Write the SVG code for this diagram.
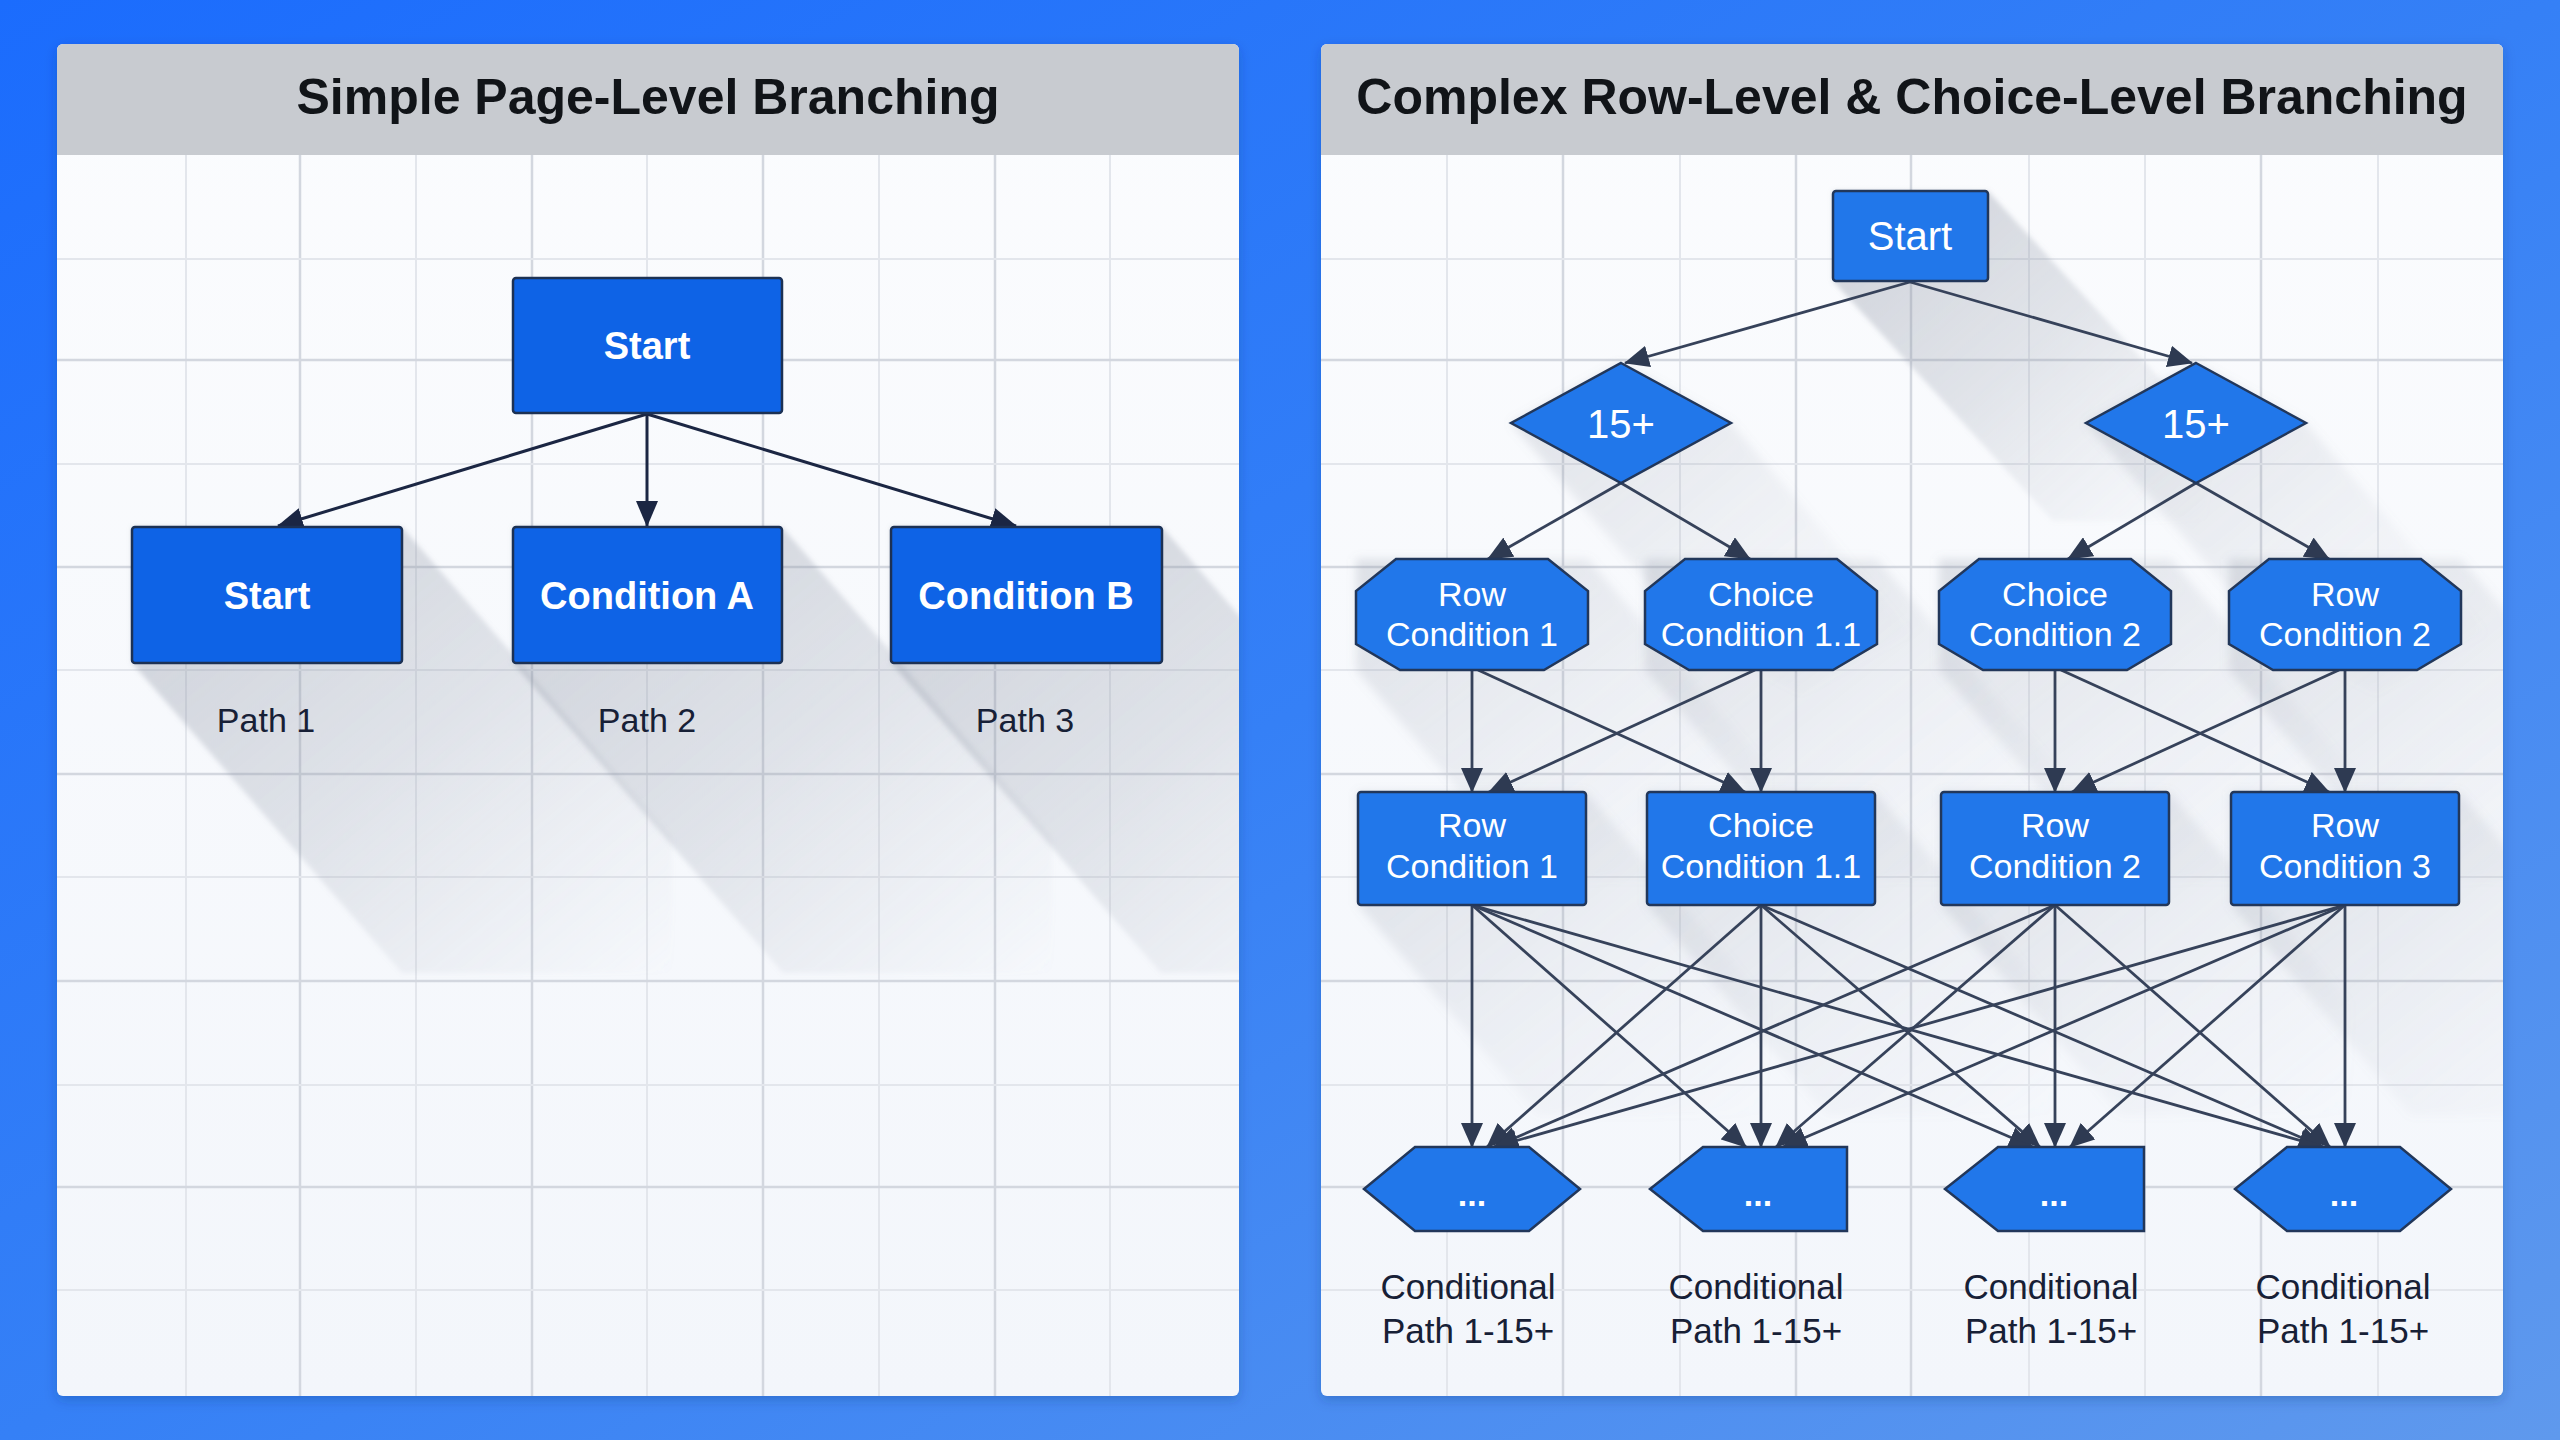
<svg xmlns="http://www.w3.org/2000/svg" width="2560" height="1440" viewBox="0 0 2560 1440">
  <defs>
    <linearGradient id="bg" x1="0" y1="0" x2="1" y2="1">
      <stop offset="0" stop-color="#1b6cfd"/>
      <stop offset="0.5" stop-color="#3580f6"/>
      <stop offset="1" stop-color="#5f99ed"/>
    </linearGradient>
    <linearGradient id="body" x1="0" y1="0" x2="0" y2="1">
      <stop offset="0" stop-color="#fbfcfe"/>
      <stop offset="1" stop-color="#f3f6fb"/>
    </linearGradient>
    <linearGradient id="shg" x1="0" y1="0" x2="1" y2="1">
      <stop offset="0" stop-color="#7d8596" stop-opacity="0.36"/>
      <stop offset="0.5" stop-color="#8b93a3" stop-opacity="0.22"/>
      <stop offset="1" stop-color="#a0a7b4" stop-opacity="0"/>
    </linearGradient>
    <linearGradient id="shg2" x1="0" y1="0" x2="1" y2="1">
      <stop offset="0" stop-color="#7d8596" stop-opacity="0.22"/>
      <stop offset="0.5" stop-color="#8b93a3" stop-opacity="0.1"/>
      <stop offset="1" stop-color="#a0a7b4" stop-opacity="0"/>
    </linearGradient>
    <filter id="blur" x="-20%" y="-20%" width="140%" height="140%">
      <feGaussianBlur stdDeviation="2.5"/>
    </filter>
    <filter id="blur2" x="-20%" y="-20%" width="140%" height="140%">
      <feGaussianBlur stdDeviation="5"/>
    </filter>
    <filter id="pshadow" x="-5%" y="-5%" width="110%" height="110%">
      <feDropShadow dx="0" dy="4" stdDeviation="6" flood-color="#0a2a6a" flood-opacity="0.25"/>
    </filter>
    <clipPath id="clipL"><rect x="57" y="155" width="1182" height="1241"/></clipPath>
    <clipPath id="clipR"><rect x="1321" y="155" width="1182" height="1241"/></clipPath>
    <marker id="arrL" viewBox="0 0 26 22" refX="25" refY="11" markerWidth="26" markerHeight="22" markerUnits="userSpaceOnUse" orient="auto">
      <path d="M0,0 L26,11 L0,22 z" fill="#1b2643"/>
    </marker>
    <marker id="arrR" viewBox="0 0 25 22" refX="24" refY="11" markerWidth="25" markerHeight="22" markerUnits="userSpaceOnUse" orient="auto">
      <path d="M0,0 L25,11 L0,22 z" fill="#2e3a52"/>
    </marker>
    <style>
      .hdr { fill: #c8cbd0; }
      .title { font-family: "Liberation Sans", Arial, sans-serif; font-weight: bold; font-size: 50px; fill: #111418; text-anchor: middle; }
      .gmin { stroke: #e3e6ec; stroke-width: 2; }
      .gmaj { stroke: #d3d7df; stroke-width: 2.5; }
      .nodeL { fill: #0e63e6; stroke: #1c3154; stroke-width: 2.5; }
      .nodeR { fill: #2177ea; stroke: #22375a; stroke-width: 2.5; }
      .tL { font-family: "Liberation Sans", Arial, sans-serif; font-weight: bold; font-size: 38px; fill: #ffffff; text-anchor: middle; }
      .tR { font-family: "Liberation Sans", Arial, sans-serif; font-size: 34px; fill: #ffffff; text-anchor: middle; }
      .tS { font-family: "Liberation Sans", Arial, sans-serif; font-size: 40px; fill: #ffffff; text-anchor: middle; }
      .dots { font-family: "Liberation Sans", Arial, sans-serif; font-weight: bold; font-size: 34px; fill: #ffffff; text-anchor: middle; }
      .lbl { font-family: "Liberation Sans", Arial, sans-serif; font-size: 34px; fill: #172036; text-anchor: middle; }
      .lbl2 { font-family: "Liberation Sans", Arial, sans-serif; font-size: 35px; fill: #172036; text-anchor: middle; }
      .cL { stroke: #1b2643; stroke-width: 3; fill: none; marker-end: url(#arrL); }
      .cR { stroke: #36425a; stroke-width: 2.8; fill: none; marker-end: url(#arrR); }
      .sh { fill: url(#shg); filter: url(#blur); }
      .sh2 { fill: url(#shg2); filter: url(#blur2); }
    </style>
  </defs>

  <rect x="0" y="0" width="2560" height="1440" fill="url(#bg)"/>

  <!-- Left panel -->
  <g id="panel-left">
    <rect x="57" y="44" width="1182" height="1352" rx="6" fill="url(#body)" filter="url(#pshadow)"/>
    <path d="M63,44 H1233 A6,6 0 0 1 1239,50 V155 H57 V50 A6,6 0 0 1 63,44 z" class="hdr"/>
    <text x="648" y="114" class="title">Simple Page-Level Branching</text>
    <g id="grid-left">
      <line class="gmin" x1="186" y1="155" x2="186" y2="1396"/>
      <line class="gmaj" x1="300" y1="155" x2="300" y2="1396"/>
      <line class="gmin" x1="416" y1="155" x2="416" y2="1396"/>
      <line class="gmaj" x1="532" y1="155" x2="532" y2="1396"/>
      <line class="gmin" x1="647" y1="155" x2="647" y2="1396"/>
      <line class="gmaj" x1="763" y1="155" x2="763" y2="1396"/>
      <line class="gmin" x1="879" y1="155" x2="879" y2="1396"/>
      <line class="gmaj" x1="995" y1="155" x2="995" y2="1396"/>
      <line class="gmin" x1="1110" y1="155" x2="1110" y2="1396"/>
      <line class="gmin" x1="57" y1="259" x2="1239" y2="259"/>
      <line class="gmaj" x1="57" y1="360" x2="1239" y2="360"/>
      <line class="gmin" x1="57" y1="464" x2="1239" y2="464"/>
      <line class="gmaj" x1="57" y1="567" x2="1239" y2="567"/>
      <line class="gmin" x1="57" y1="670" x2="1239" y2="670"/>
      <line class="gmaj" x1="57" y1="774" x2="1239" y2="774"/>
      <line class="gmin" x1="57" y1="877" x2="1239" y2="877"/>
      <line class="gmaj" x1="57" y1="981" x2="1239" y2="981"/>
      <line class="gmin" x1="57" y1="1085" x2="1239" y2="1085"/>
      <line class="gmaj" x1="57" y1="1187" x2="1239" y2="1187"/>
      <line class="gmin" x1="57" y1="1290" x2="1239" y2="1290"/>
    </g>
    <g id="shadows-left" clip-path="url(#clipL)">
      <polygon class="sh" points="132,527 402,527 672,837 672,973 402,973 132,663"/>
      <polygon class="sh" points="513,527 782,527 1052,837 1052,973 783,973 513,663"/>
      <polygon class="sh" points="891,527 1162,527 1432,837 1432,973 1161,973 891,663"/>
    </g>
  </g>

  <!-- Right panel -->
  <g id="panel-right">
    <rect x="1321" y="44" width="1182" height="1352" rx="6" fill="url(#body)" filter="url(#pshadow)"/>
    <path d="M1327,44 H2497 A6,6 0 0 1 2503,50 V155 H1321 V50 A6,6 0 0 1 1327,44 z" class="hdr"/>
    <text x="1912" y="114" class="title">Complex Row-Level &amp; Choice-Level Branching</text>
    <g id="grid-right">
      <line class="gmin" x1="1447" y1="155" x2="1447" y2="1396"/>
      <line class="gmaj" x1="1563" y1="155" x2="1563" y2="1396"/>
      <line class="gmin" x1="1680" y1="155" x2="1680" y2="1396"/>
      <line class="gmaj" x1="1796" y1="155" x2="1796" y2="1396"/>
      <line class="gmaj" x1="1911" y1="155" x2="1911" y2="1396"/>
      <line class="gmin" x1="2029" y1="155" x2="2029" y2="1396"/>
      <line class="gmin" x1="2145" y1="155" x2="2145" y2="1396"/>
      <line class="gmaj" x1="2261" y1="155" x2="2261" y2="1396"/>
      <line class="gmin" x1="2378" y1="155" x2="2378" y2="1396"/>
      <line class="gmin" x1="1321" y1="259" x2="2503" y2="259"/>
      <line class="gmaj" x1="1321" y1="360" x2="2503" y2="360"/>
      <line class="gmin" x1="1321" y1="464" x2="2503" y2="464"/>
      <line class="gmaj" x1="1321" y1="567" x2="2503" y2="567"/>
      <line class="gmin" x1="1321" y1="670" x2="2503" y2="670"/>
      <line class="gmaj" x1="1321" y1="774" x2="2503" y2="774"/>
      <line class="gmin" x1="1321" y1="877" x2="2503" y2="877"/>
      <line class="gmaj" x1="1321" y1="981" x2="2503" y2="981"/>
      <line class="gmin" x1="1321" y1="1085" x2="2503" y2="1085"/>
      <line class="gmaj" x1="1321" y1="1187" x2="2503" y2="1187"/>
      <line class="gmin" x1="1321" y1="1290" x2="2503" y2="1290"/>
    </g>
    <g id="shadows-right" clip-path="url(#clipR)">
      <polygon class="sh" points="1833,191 1988,191 2208,431 2208,521 2053,521 1833,281"/>
      <polygon class="sh2" points="1511,423 1621,363 1731,423 1911,633 1801,693 1691,633"/>
      <polygon class="sh2" points="2086,423 2196,363 2306,423 2486,633 2376,693 2266,633"/>
      <polygon class="sh2" points="1356,559 1588,559 1768,769 1768,880 1536,880 1356,670"/>
      <polygon class="sh2" points="1645,559 1877,559 2057,769 2057,880 1825,880 1645,670"/>
      <polygon class="sh2" points="1939,559 2171,559 2351,769 2351,880 2119,880 1939,670"/>
      <polygon class="sh2" points="2229,559 2461,559 2641,769 2641,880 2409,880 2229,670"/>
      <polygon class="sh2" points="1358,792 1586,792 1766,1002 1766,1115 1538,1115 1358,905"/>
      <polygon class="sh2" points="1647,792 1875,792 2055,1002 2055,1115 1827,1115 1647,905"/>
      <polygon class="sh2" points="1941,792 2169,792 2349,1002 2349,1115 2121,1115 1941,905"/>
      <polygon class="sh2" points="2231,792 2459,792 2639,1002 2639,1115 2411,1115 2231,905"/>
    </g>
  </g>

  <!-- Connectors -->
  <g id="connectors">
    <g id="connectors-left">
      <line class="cL" x1="647" y1="414" x2="278" y2="526"/>
      <line class="cL" x1="647" y1="414" x2="647" y2="526"/>
      <line class="cL" x1="647" y1="414" x2="1016" y2="526"/>
    </g>
    <g id="connectors-right">
      <line class="cR" x1="1910" y1="282" x2="1625" y2="363"/>
      <line class="cR" x1="1910" y1="282" x2="2192" y2="363"/>
      <line class="cR" x1="1621" y1="483" x2="1488" y2="559"/>
      <line class="cR" x1="1621" y1="483" x2="1750" y2="559"/>
      <line class="cR" x1="2196" y1="483" x2="2068" y2="559"/>
      <line class="cR" x1="2196" y1="483" x2="2329" y2="559"/>

      <line class="cR" x1="1472" y1="670" x2="1472" y2="792"/>
      <line class="cR" x1="1478" y1="670" x2="1745" y2="792"/>
      <line class="cR" x1="1761" y1="670" x2="1761" y2="792"/>
      <line class="cR" x1="1755" y1="670" x2="1489" y2="792"/>
      <line class="cR" x1="2055" y1="670" x2="2055" y2="792"/>
      <line class="cR" x1="2061" y1="670" x2="2329" y2="792"/>
      <line class="cR" x1="2345" y1="670" x2="2345" y2="792"/>
      <line class="cR" x1="2339" y1="670" x2="2072" y2="792"/>

      <line class="cR" x1="1472" y1="905" x2="1472" y2="1147"/>
      <line class="cR" x1="1472" y1="905" x2="1746" y2="1147"/>
      <line class="cR" x1="1472" y1="905" x2="2033" y2="1147"/>
      <line class="cR" x1="1472" y1="905" x2="2323" y2="1147"/>
      <line class="cR" x1="1761" y1="905" x2="1487" y2="1147"/>
      <line class="cR" x1="1761" y1="905" x2="1761" y2="1147"/>
      <line class="cR" x1="1761" y1="905" x2="2040" y2="1147"/>
      <line class="cR" x1="1761" y1="905" x2="2323" y2="1147"/>
      <line class="cR" x1="2055" y1="905" x2="1494" y2="1147"/>
      <line class="cR" x1="2055" y1="905" x2="1776" y2="1147"/>
      <line class="cR" x1="2055" y1="905" x2="2055" y2="1147"/>
      <line class="cR" x1="2055" y1="905" x2="2330" y2="1147"/>
      <line class="cR" x1="2345" y1="905" x2="1494" y2="1147"/>
      <line class="cR" x1="2345" y1="905" x2="1783" y2="1147"/>
      <line class="cR" x1="2345" y1="905" x2="2070" y2="1147"/>
      <line class="cR" x1="2345" y1="905" x2="2345" y2="1147"/>
    </g>
  </g>

  <!-- Left nodes -->
  <g id="l-start">
    <rect class="nodeL" x="513" y="278" width="269" height="135" rx="3"/>
    <text class="tL" x="647" y="359">Start</text>
  </g>
  <g id="l-path1">
    <rect class="nodeL" x="132" y="527" width="270" height="136" rx="3"/>
    <text class="tL" x="267" y="609">Start</text>
    <text class="lbl" x="266" y="732">Path 1</text>
  </g>
  <g id="l-condA">
    <rect class="nodeL" x="513" y="527" width="269" height="136" rx="3"/>
    <text class="tL" x="647" y="609">Condition A</text>
    <text class="lbl" x="647" y="732">Path 2</text>
  </g>
  <g id="l-condB">
    <rect class="nodeL" x="891" y="527" width="271" height="136" rx="3"/>
    <text class="tL" x="1026" y="609">Condition B</text>
    <text class="lbl" x="1025" y="732">Path 3</text>
  </g>

  <!-- Right nodes -->
  <g id="r-start">
    <rect class="nodeR" x="1833" y="191" width="155" height="90" rx="3"/>
    <text class="tS" x="1910" y="250">Start</text>
  </g>
  <g id="r-d1">
    <polygon class="nodeR" points="1621,363 1731,423 1621,483 1511,423"/>
    <text class="tS" x="1621" y="438">15+</text>
  </g>
  <g id="r-d2">
    <polygon class="nodeR" points="2196,363 2306,423 2196,483 2086,423"/>
    <text class="tS" x="2196" y="438">15+</text>
  </g>

  <g id="r-oct1">
    <polygon class="nodeR" points="1396,559 1548,559 1588,591 1588,644 1544,670 1400,670 1356,644 1356,591"/>
    <text class="tR" x="1472" y="606">Row</text>
    <text class="tR" x="1472" y="646">Condition 1</text>
  </g>
  <g id="r-oct2">
    <polygon class="nodeR" points="1685,559 1837,559 1877,591 1877,644 1833,670 1689,670 1645,644 1645,591"/>
    <text class="tR" x="1761" y="606">Choice</text>
    <text class="tR" x="1761" y="646">Condition 1.1</text>
  </g>
  <g id="r-oct3">
    <polygon class="nodeR" points="1979,559 2131,559 2171,591 2171,644 2127,670 1983,670 1939,644 1939,591"/>
    <text class="tR" x="2055" y="606">Choice</text>
    <text class="tR" x="2055" y="646">Condition 2</text>
  </g>
  <g id="r-oct4">
    <polygon class="nodeR" points="2269,559 2421,559 2461,591 2461,644 2417,670 2273,670 2229,644 2229,591"/>
    <text class="tR" x="2345" y="606">Row</text>
    <text class="tR" x="2345" y="646">Condition 2</text>
  </g>

  <g id="r-rect1">
    <rect class="nodeR" x="1358" y="792" width="228" height="113" rx="3"/>
    <text class="tR" x="1472" y="837">Row</text>
    <text class="tR" x="1472" y="878">Condition 1</text>
  </g>
  <g id="r-rect2">
    <rect class="nodeR" x="1647" y="792" width="228" height="113" rx="3"/>
    <text class="tR" x="1761" y="837">Choice</text>
    <text class="tR" x="1761" y="878">Condition 1.1</text>
  </g>
  <g id="r-rect3">
    <rect class="nodeR" x="1941" y="792" width="228" height="113" rx="3"/>
    <text class="tR" x="2055" y="837">Row</text>
    <text class="tR" x="2055" y="878">Condition 2</text>
  </g>
  <g id="r-rect4">
    <rect class="nodeR" x="2231" y="792" width="228" height="113" rx="3"/>
    <text class="tR" x="2345" y="837">Row</text>
    <text class="tR" x="2345" y="878">Condition 3</text>
  </g>

  <g id="r-hex1">
    <polygon class="nodeR" points="1415,1147 1529,1147 1580,1189 1529,1231 1415,1231 1364,1189"/>
    <text class="dots" x="1472" y="1206">...</text>
    <text class="lbl2" x="1468" y="1299">Conditional</text>
    <text class="lbl2" x="1468" y="1343">Path 1-15+</text>
  </g>
  <g id="r-hex2">
    <polygon class="nodeR" points="1703,1147 1847,1147 1847,1231 1703,1231 1650,1189"/>
    <text class="dots" x="1758" y="1206">...</text>
    <text class="lbl2" x="1756" y="1299">Conditional</text>
    <text class="lbl2" x="1756" y="1343">Path 1-15+</text>
  </g>
  <g id="r-hex3">
    <polygon class="nodeR" points="1998,1147 2144,1147 2144,1231 1998,1231 1945,1189"/>
    <text class="dots" x="2054" y="1206">...</text>
    <text class="lbl2" x="2051" y="1299">Conditional</text>
    <text class="lbl2" x="2051" y="1343">Path 1-15+</text>
  </g>
  <g id="r-hex4">
    <polygon class="nodeR" points="2287,1147 2400,1147 2451,1189 2400,1231 2287,1231 2235,1189"/>
    <text class="dots" x="2344" y="1206">...</text>
    <text class="lbl2" x="2343" y="1299">Conditional</text>
    <text class="lbl2" x="2343" y="1343">Path 1-15+</text>
  </g>
</svg>
